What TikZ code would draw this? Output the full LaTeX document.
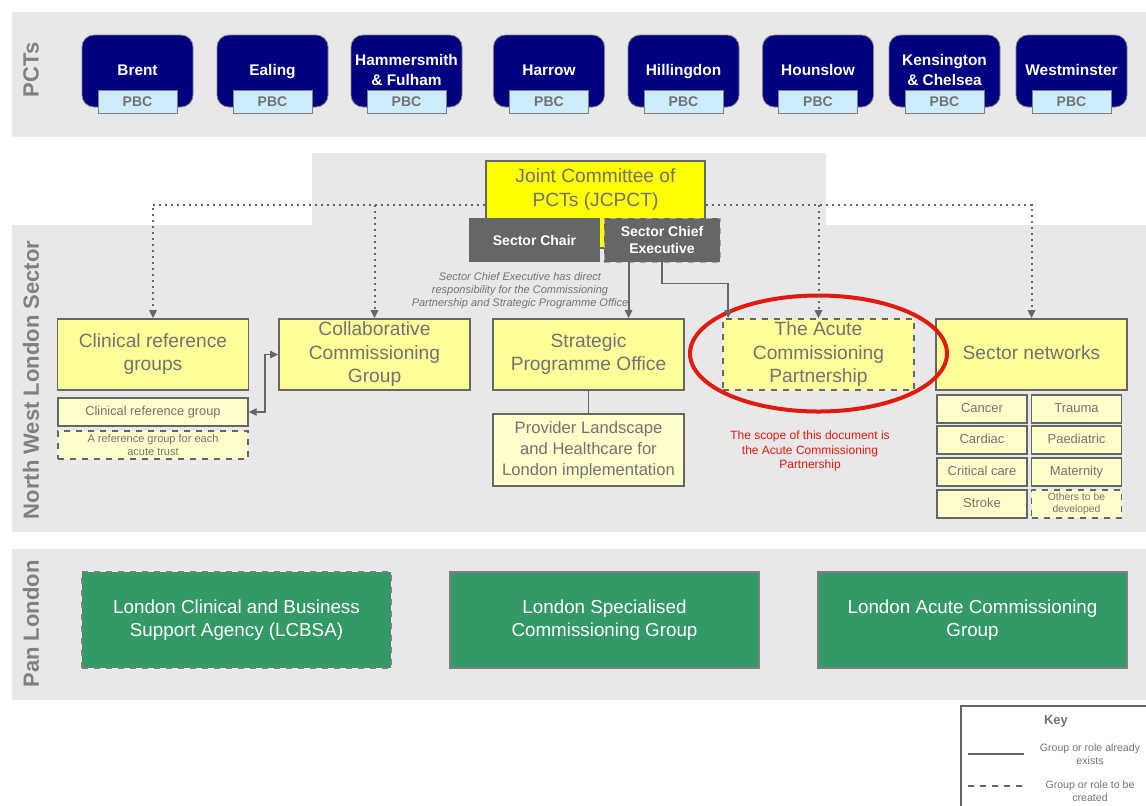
\documentclass[tikz,border=0pt]{standalone}
\usepackage{fontspec}
\setmainfont{Liberation Sans}
\usetikzlibrary{arrows, arrows.meta, calc, shapes.geometric}

\definecolor{band}{HTML}{E8E8E8}
\definecolor{pctblue}{HTML}{000080}
\definecolor{pbcblue}{HTML}{CCECFF}
\definecolor{txtgray}{HTML}{727272}
\definecolor{linegray}{HTML}{666666}
\definecolor{boxyellow}{HTML}{FFFF99}
\definecolor{paleyellow}{HTML}{FFFFCC}
\definecolor{jcyellow}{HTML}{FFFF00}
\definecolor{nhsgreen}{HTML}{339966}
\definecolor{scopered}{HTML}{E01A10}

\tikzset{
    bandtitle/.style={rotate=90, text=gray, font=\bfseries\fontsize{11}{12}\selectfont},
    pct/.style={draw=gray, fill=pctblue, rounded corners=6pt, minimum width=55.5pt, minimum height=36pt, inner sep=0pt, text=white, align=center, font=\bfseries\fontsize{7.7}{10}\selectfont},
    pbc/.style={draw=gray, fill=pbcblue, minimum width=39.5pt, minimum height=11.5pt, inner sep=0pt, text=txtgray, font=\bfseries\fontsize{7}{8}\selectfont},
    bigbox/.style={draw=linegray, line width=0.8pt, fill=boxyellow, minimum width=95.5pt, minimum height=35.5pt, inner sep=0pt, text=txtgray, align=center, font=\fontsize{9.6}{11.6}\selectfont},
    smallbox/.style={draw=linegray, line width=0.6pt, fill=paleyellow, inner sep=0pt, text=txtgray, align=center},
    role/.style={fill=linegray, minimum height=22pt, inner sep=0pt, text=white, align=center, font=\bfseries\fontsize{7}{8.5}\selectfont},
    tobe/.style={dashed},
    tip/.style={-{Triangle[length=4pt,width=3.6pt]}},
    dotline/.style={draw=linegray, dotted, line width=1pt, tip},
    solidline/.style={draw=linegray, line width=0.9pt},
    green/.style={fill=nhsgreen, draw=gray, line width=0.8pt, minimum width=154.5pt, minimum height=48pt, inner sep=0pt, text=white, align=center, font=\fontsize{9.4}{11.5}\selectfont}
}

\begin{document}
\begin{tikzpicture}[x=0.5pt,y=-0.5pt]
    \clip (0,0) rectangle (1146,805);
    \fill[white] (0,0) rectangle (1146,805);

    \fill[band] (12,12) rectangle (1146,137);
    \fill[band] (312,153) rectangle (826,226);
    \fill[band] (12,225) rectangle (1146,532);
    \fill[band] (12,549) rectangle (1146,700);

    \node[bandtitle] (pcts) at (31,70) {PCTs};
    \node[bandtitle] (nwl) at (31,380) {North West London Sector};
    \node[bandtitle] (pan) at (31,624) {Pan London};

    \foreach \x/\pname/\ptext in {137.5/brent/Brent, 272.5/ealing/Ealing, 406.5/hamfu/{Hammersmith\\\& Fulham}, 549/harrow/Harrow, 683.5/hilling/Hillingdon, 818/houns/Hounslow, 944.5/kensch/{Kensington\\\& Chelsea}, 1071.5/westm/Westminster} {
        \node[pct] (\pname) at (\x,71) {\strut\ptext\strut};
        \node[pbc] (\pname-pbc) at (\x,101.5) {PBC};
    }

    \node[draw=linegray, line width=0.8pt, fill=jcyellow, minimum width=109.5pt, minimum height=43.5pt] (jcpct) at (595.5,204.5) {};
    \node[text=txtgray, align=center, font=\fontsize{9.6}{12}\selectfont] (jcpcttxt) at (595.5,190) {Joint Committee of\\PCTs (JCPCT)};
    \node[role, minimum width=65.5pt] (chair) at (534.5,240) {Sector Chair};
    \node[role, tobe, draw=gray!70, minimum width=58pt] (sce) at (662,240) {Sector Chief\\Executive};
    \node[text=txtgray, align=center, font=\itshape\fontsize{5.5}{6.5}\selectfont] (scenote) at (520,291) {Sector Chief Executive has direct\\responsibility for the Commissioning\\Partnership and Strategic Programme Office};

    \node[bigbox] (crg) at (153,354.5) {\strut Clinical reference\\groups\strut};
    \node[smallbox, minimum width=95pt, minimum height=14pt, font=\fontsize{6.4}{7.5}\selectfont] (crgone) at (153,412) {\strut Clinical reference group};
    \node[smallbox, tobe, minimum width=95pt, minimum height=14pt, font=\fontsize{5.5}{6.3}\selectfont] (crgeach) at (153,445) {A reference group for each\\acute trust};
    \node[bigbox] (collab) at (374.5,354.5) {\strut Collaborative\\Commissioning\\Group\strut};
    \node[bigbox] (spo) at (588.5,354.5) {\strut Strategic\\Programme Office\strut};
    \node[smallbox, minimum width=95.5pt, minimum height=36pt, font=\fontsize{8.3}{10.5}\selectfont] (provider) at (588.5,450) {\strut Provider Landscape\\and Healthcare for\\London implementation\strut};
    \node[bigbox, tobe] (acute) at (818.5,354.5) {\strut The Acute\\Commissioning\\Partnership\strut};
    \node[bigbox] (snet) at (1031.5,354.5) {\strut Sector networks};

    \foreach \x/\y/\nname/\ntext in {982/409/cancer/Cancer, 1076.5/409/trauma/Trauma, 982/440/cardiac/Cardiac, 1076.5/440/paed/Paediatric, 982/472/critical/Critical care, 1076.5/472/matern/Maternity, 982/504/stroke/Stroke} {
        \node[smallbox, minimum width=45pt, minimum height=14pt, font=\fontsize{6.5}{7.5}\selectfont] (\nname) at (\x,\y) {\strut\ntext};
    }
    \node[smallbox, tobe, minimum width=45pt, minimum height=14pt, font=\fontsize{5.2}{6}\selectfont] (others) at (1076.5,504) {Others to be\\developed};

    \node[draw=scopered, line width=2pt, ellipse, minimum width=128.5pt, minimum height=58pt] (scopering) at (818.5,353.5) {};
    \node[text=scopered, align=center, font=\fontsize{6}{7.2}\selectfont] (scopenote) at (810,451) {The scope of this document is\\the Acute Commissioning\\Partnership};

    \draw[dotline] (jcpct.west) -| (crg.north);
    \draw[dotline] (jcpct.west -| collab.north) -- (collab.north);
    \draw[dotline] (jcpct.east) -| (snet.north);
    \draw[dotline] (jcpct.east -| acute.north) -- (acute.north);

    \draw[solidline, tip] ([xshift=12.5pt]sce.south west) -- ([xshift=12.5pt]sce.south west |- spo.north);
    \draw[solidline, tip] (sce.south) -- ++(0,21) -| ([xshift=3pt]acute.north west);
    \draw[solidline, {Triangle[length=4pt,width=3.6pt]}-{Triangle[length=4pt,width=3.6pt]}] (crgone.east) -- ++(16,0) |- (collab.west);
    \draw[solidline] (spo.south) -- (provider.north);

    \node[green, tobe] (lcbsa) at (236.5,620) {\strut London Clinical and Business\\Support Agency (LCBSA)\strut};
    \node[green] (lscg) at (604.5,620) {\strut London Specialised\\Commissioning Group\strut};
    \node[green] (lacg) at (972.5,620) {\strut London Acute Commissioning\\Group\strut};

    \draw[linegray, line width=0.8pt, fill=white] (961,706) rectangle (1160,820);
    \node[text=txtgray, font=\bfseries\fontsize{6.5}{7.5}\selectfont] (keytitle) at (1056,721) {Key};
    \coordinate (exa) at (968,754);
    \coordinate (exb) at (1024,754);
    \coordinate (newa) at (968,786);
    \coordinate (newb) at (1024,786);
    \draw[solidline] (exa) -- (exb);
    \draw[solidline, dashed] (newa) -- (newb);
    \node[text=txtgray, align=center, font=\fontsize{5.3}{6.3}\selectfont] (keyexists) at (1090,754) {Group or role already\\exists};
    \node[text=txtgray, align=center, font=\fontsize{5.3}{6.3}\selectfont] (keycreated) at (1090,791) {Group or role to be\\created};
\end{tikzpicture}
\end{document}
